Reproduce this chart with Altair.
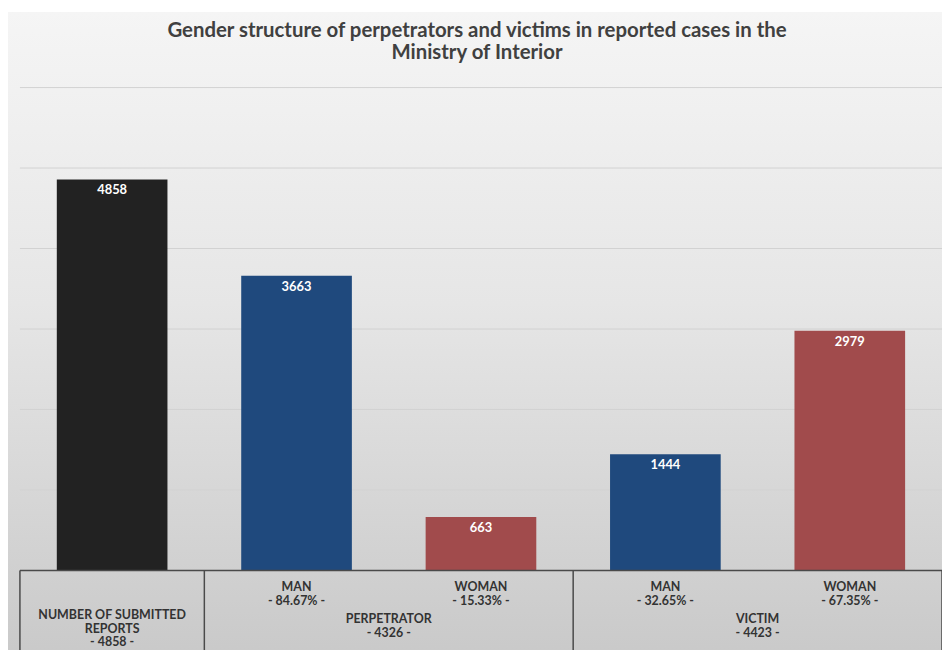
import altair as alt
import pandas as pd

# ---- data ----
categories = ["NUMBER OF SUBMITTED REPORTS", "PERPETRATOR MAN", "PERPETRATOR WOMAN", "VICTIM MAN", "VICTIM WOMAN"]
values = [4858, 3663, 663, 1444, 2979]
kinds = ["total", "man", "woman", "man", "woman"]
sub_names = ["MAN", "WOMAN", "MAN", "WOMAN"]
sub_pcts = ["84.67%", "15.33%", "32.65%", "67.35%"]
group_names = ["PERPETRATOR", "VICTIM"]
group_totals = [4326, 4423]
first_label = ["NUMBER OF SUBMITTED", "REPORTS", "- 4858 -"]
grid_values = [1000, 2000, 3000, 4000, 5000, 6000]
title_lines = ["Gender structure of perpetrators and victims in reported cases in the", "Ministry of Interior"]

FONT = "Lato"
TXT = "#333333"

bars_df = pd.DataFrame({"cat": categories, "value": values, "kind": kinds})
sub_df = pd.DataFrame({
    "cat": categories[1:],
    "label": [f"{n}\n- {p} -" for n, p in zip(sub_names, sub_pcts)],
})
grp_df = pd.DataFrame({
    "cat": [categories[2], categories[4]],
    "label": [f"{n}\n- {t} -" for n, t in zip(group_names, group_totals)],
})
first_df = pd.DataFrame({"cat": [categories[0]], "label": ["\n".join(first_label)]})
grid_df = pd.DataFrame({"v": grid_values})
base_df = pd.DataFrame({"v": [0]})
vleft_df = pd.DataFrame({"cat": [categories[0], categories[1], categories[3]]})
vright_df = pd.DataFrame({"cat": [categories[4]]})
title_df = pd.DataFrame({"t": ["\n".join(title_lines)]})
one = pd.DataFrame({"a": [0]})

xs = alt.Scale(domain=categories, paddingInner=0, paddingOuter=0)
ys = alt.Scale(domain=[0, 6000], nice=False)
W, H = 928, 486

bg = alt.Chart(one).mark_rect(
    fill=alt.Gradient(
        gradient="linear",
        stops=[
            alt.GradientStop(color="#f5f5f5", offset=0),
            alt.GradientStop(color="#e6e6e6", offset=0.45),
            alt.GradientStop(color="#c9c9c9", offset=1),
        ],
        x1=0, x2=0, y1=0, y2=1,
    )
).encode(x=alt.value(-12), x2=alt.value(W), y=alt.value(-76), y2=alt.value(H + 90))

title = alt.Chart(title_df).mark_text(
    font=FONT, fontSize=20.5, fontWeight="bold", color="#404040", baseline="middle",
    align="center", lineBreak="\n", lineHeight=22.5
).encode(x=alt.value(W / 2 - 4), y=alt.value(-57), text="t:N")

grid = alt.Chart(grid_df).mark_rule(color="#d2d2d2", strokeWidth=1).encode(
    y=alt.Y("v:Q", scale=ys, axis=None)
)

bars = alt.Chart(bars_df).mark_bar(width=alt.RelativeBandSize(0.6)).encode(
    x=alt.X("cat:N", scale=xs, axis=None, sort=None),
    y=alt.Y("value:Q", scale=ys, axis=None),
    color=alt.Color("kind:N", scale=alt.Scale(domain=["total", "man", "woman"],
                                              range=["#222222", "#1f497d", "#a14b4c"]), legend=None),
)

bar_labels = alt.Chart(bars_df).mark_text(
    font=FONT, fontSize=13, fontWeight="bold", color="white", baseline="middle", dy=11
).encode(
    x=alt.X("cat:N", scale=xs, axis=None, sort=None),
    y=alt.Y("value:Q", scale=ys, axis=None),
    text="value:Q",
)

hrule = alt.Chart(base_df).mark_rule(color="#4a4a4a", strokeWidth=1.5).encode(
    y=alt.Y("v:Q", scale=ys, axis=None)
)

vleft = alt.Chart(vleft_df).mark_rule(color="#4a4a4a", strokeWidth=1.5).encode(
    x=alt.X("cat:N", scale=xs, axis=None, bandPosition=0),
    y=alt.value(H), y2=alt.value(H + 90),
)
vright = alt.Chart(vright_df).mark_rule(color="#4a4a4a", strokeWidth=1.5).encode(
    x=alt.X("cat:N", scale=xs, axis=None, bandPosition=1),
    y=alt.value(H), y2=alt.value(H + 90),
)

sub_text = alt.Chart(sub_df).mark_text(
    font=FONT, fontSize=12.5, fontWeight="bold", color=TXT, baseline="middle", lineBreak="\n", lineHeight=14
).encode(
    x=alt.X("cat:N", scale=xs, axis=None),
    y=alt.value(H + 17),
    text="label:N",
)

grp_text = alt.Chart(grp_df).mark_text(
    font=FONT, fontSize=12.5, fontWeight="bold", color=TXT, baseline="middle", lineBreak="\n", lineHeight=13.5
).encode(
    x=alt.X("cat:N", scale=xs, axis=None, bandPosition=0),
    y=alt.value(H + 49),
    text="label:N",
)

first_text = alt.Chart(first_df).mark_text(
    font=FONT, fontSize=12.5, fontWeight="bold", color=TXT, baseline="middle", lineBreak="\n", lineHeight=13.5
).encode(
    x=alt.X("cat:N", scale=xs, axis=None),
    y=alt.value(H + 45),
    text="label:N",
)

chart = alt.layer(
    bg, title, grid, bars, bar_labels, hrule, vleft, vright, sub_text, grp_text, first_text
).properties(
    width=W,
    height=H,
    autosize="none",
    padding={"left": 12, "top": 78, "right": 0, "bottom": 78},
).configure_view(stroke=None)

chart.save("out.html", embed_options={"renderer": "svg", "actions": False})
